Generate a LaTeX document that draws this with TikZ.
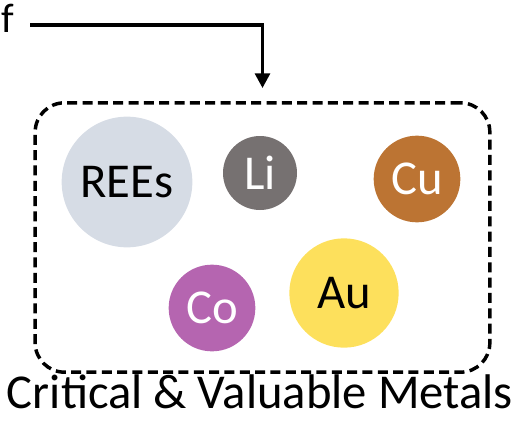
\documentclass[tikz,border=0pt]{standalone}
\usepackage{fontspec}
\setmainfont{Carlito}
\usetikzlibrary{arrows.meta}
\definecolor{reec}{HTML}{D6DCE5}
\definecolor{lic}{HTML}{767171}
\definecolor{cuc}{HTML}{BC7433}
\definecolor{coc}{HTML}{B565B0}
\definecolor{auc}{HTML}{FDE05C}
\begin{document}
\begin{tikzpicture}[x=0.75pt,y=-0.75pt,
  bigfont/.style={font=\fontsize{36.5}{42}\selectfont},
  metal/.style={circle,inner sep=0pt,bigfont},
  arr/.style={line width=2.6pt,-{Triangle[length=11pt,width=11pt]}},
  dbox/.style={draw,line width=2.6pt,dash pattern=on 7.5pt off 4pt,rounded corners=22pt,minimum width=341pt,minimum height=202pt,inner sep=0pt}]
\useasboundingbox (0,0) rectangle (516,431);
\node[dbox] (box) at (262.5,237.5) {};
\node[anchor=base west,inner sep=0pt,font=\fontsize{31}{36}\selectfont] (f) at (1,33) {f};
\coordinate (s) at (30,25);
\coordinate (tip) at ([yshift=9.75pt]box.north);
\draw[arr] (s) -| (tip);
\node[metal,fill=reec,minimum size=98pt] (ree) at (127,182) {REEs};
\node[metal,fill=lic,text=white,minimum size=55.5pt] (li) at (260,173) {Li};
\node[metal,fill=cuc,text=white,minimum size=65pt] (cu) at (417,179) {Cu};
\node[metal,fill=coc,text=white,minimum size=65pt] (co) at (212,308) {Co};
\node[metal,fill=auc,minimum size=82pt] (au) at (344,293) {Au};
\node[anchor=base,inner sep=0pt,bigfont] (lbl) at (260,408) {Critical \& Valuable Metals};
\end{tikzpicture}
\end{document}
